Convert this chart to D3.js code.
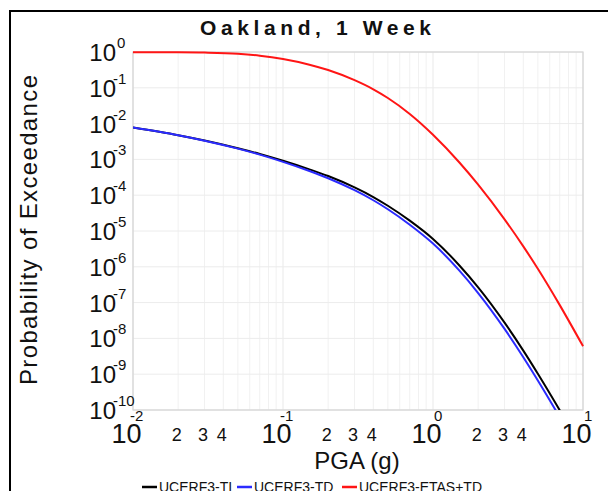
<!DOCTYPE html>
<html><head><meta charset="utf-8">
<script src="https://cdn.jsdelivr.net/npm/d3@7/dist/d3.min.js"></script>
<style>
html,body{margin:0;padding:0;background:#fff;}
svg{display:block;font-family:"Liberation Sans",Arial,Helvetica,sans-serif;}
</style></head>
<body><svg id="chart" width="608" height="491"></svg>
<script>
// ---- data ----
const pga = [0.01,0.02,0.03,0.05,0.07,0.1,0.15,0.2,0.3,0.4,0.5,0.7,1,1.5,2,3,4,5,7,10];
const ucerf3TI = [7.78e-3,4.75e-3,3.37e-3,2.05e-3,1.42e-3,9.16e-4,5.28e-4,3.43e-4,1.65e-4,8.89e-5,5.08e-5,1.95e-5,6.0e-6,1.09e-6,2.67e-7,2.75e-8,4.56e-9,1.03e-9,9.8e-11,7.2e-12];
const ucerf3TD = [7.78e-3,4.75e-3,3.34e-3,2.0e-3,1.36e-3,8.55e-4,4.75e-4,2.98e-4,1.38e-4,7.23e-5,4.05e-5,1.5e-5,4.46e-6,7.8e-7,1.85e-7,1.84e-8,2.99e-9,6.7e-10,6.27e-11,4.55e-12];
const ucerf3ETAS = [0.991,0.984,0.964,0.893,0.787,0.635,0.442,0.313,0.163,0.0906,0.0518,0.0186,4.88e-3,8.2e-4,1.97e-4,2.12e-5,3.72e-6,8.81e-7,8.5e-8,6.07e-9];
const seriesNames = ["UCERF3-TI","UCERF3-TD","UCERF3-ETAS+TD"];
const seriesColors = ["#000000","#2b2bff","#ff1515"];
const yExponents = [0,-1,-2,-3,-4,-5,-6,-7,-8,-9,-10];
const xExponents = [-2,-1,0,1];
const minorLabels = ["2","3","4"];
const titleText = "Oakland, 1 Week";
const xTitle = "PGA (g)";
const yTitle = "Probability of Exceedance";

// ---- layout ----
const svg = d3.select("#chart");
const L = 133, R = 583, T = 52, B = 410;
const x = d3.scaleLog().domain([0.01,10]).range([L,R]);
const y = d3.scaleLog().domain([1e-10,1]).range([B,T]);

// frame
svg.append("rect").attr("x",10).attr("y",11).attr("width",620).attr("height",500)
  .attr("fill","none").attr("stroke","#000").attr("stroke-width",2);

// plot background
svg.append("rect").attr("x",L).attr("y",T).attr("width",R-L).attr("height",B-T).attr("fill","#fff");

// gridlines
const g = svg.append("g");
const minorX = [];
for (let d=-2; d<1; d++) for (let m=2; m<10; m++) minorX.push(m*Math.pow(10,d));
g.selectAll(".mx").data(minorX).enter().append("line")
  .attr("x1",d=>x(d)).attr("x2",d=>x(d)).attr("y1",T).attr("y2",B)
  .attr("stroke","#f1f1f1").attr("stroke-width",1);
g.selectAll(".Mx").data(xExponents.map(e=>Math.pow(10,e))).enter().append("line")
  .attr("x1",d=>x(d)).attr("x2",d=>x(d)).attr("y1",T).attr("y2",B)
  .attr("stroke","#e9e9e9").attr("stroke-width",1);
g.selectAll(".My").data(yExponents.map(e=>Math.pow(10,e))).enter().append("line")
  .attr("x1",L).attr("x2",R).attr("y1",d=>y(d)).attr("y2",d=>y(d))
  .attr("stroke","#ececec").attr("stroke-width",1);

// plot border
svg.append("rect").attr("x",L).attr("y",T).attr("width",R-L).attr("height",B-T)
  .attr("fill","none").attr("stroke","#d4d4d4").attr("stroke-width",1.2);

// clip
svg.append("clipPath").attr("id","clip").append("rect")
  .attr("x",L).attr("y",T-2).attr("width",R-L+1).attr("height",B-T+2);

const line = d3.line().x(d=>x(d[0])).y(d=>y(d[1])).curve(d3.curveMonotoneX);
const allSeries = [ucerf3TI, ucerf3TD, ucerf3ETAS];
const curves = svg.append("g").attr("clip-path","url(#clip)");
allSeries.forEach((s,i)=>{
  curves.append("path").datum(pga.map((p,j)=>[p,s[j]]))
    .attr("d",line).attr("fill","none").attr("stroke",seriesColors[i]).attr("stroke-width",2);
});

// y tick labels
const yl = svg.append("g").attr("fill","#111");
yExponents.forEach(e=>{
  const yy = y(Math.pow(10,e));
  yl.append("text").attr("x",116).attr("y",yy+9).attr("text-anchor","end")
    .attr("font-size",24).text("10");
  yl.append("text").attr("x",e===0?117:113).attr("y",yy-4).attr("font-size",15)
    .text(String(e));
});

// x tick labels
const xl = svg.append("g").attr("fill","#111");
xExponents.forEach(e=>{
  const xx = x(Math.pow(10,e));
  xl.append("text").attr("x",xx+8.5).attr("y",443).attr("text-anchor","end")
    .attr("font-size",27).text("10");
  xl.append("text").attr("x",e>=0?xx+1:xx-3).attr("y",421).attr("font-size",15)
    .text(String(e));
});
[-2,-1,0].forEach(d=>{
  minorLabels.forEach(m=>{
    const xx = x(+m*Math.pow(10,d));
    xl.append("text").attr("x",xx-1.5).attr("y",441).attr("text-anchor","middle")
      .attr("font-size",18).text(m);
  });
});

// titles
svg.append("text").attr("x",200).attr("y",35).attr("font-size",21).attr("font-weight","bold")
  .attr("textLength",231).attr("lengthAdjust","spacing").attr("fill","#111").text(titleText);
svg.append("text").attr("x",357).attr("y",469).attr("text-anchor","middle")
  .attr("font-size",24).attr("fill","#111").text(xTitle);
svg.append("text").attr("transform","translate(37,230) rotate(-90)").attr("text-anchor","middle")
  .attr("font-size",24).attr("textLength",310).attr("lengthAdjust","spacing")
  .attr("fill","#111").text(yTitle);

// legend
const legX = [142,237,342];
const lg = svg.append("g");
seriesNames.forEach((n,i)=>{
  lg.append("line").attr("x1",legX[i]).attr("x2",legX[i]+15).attr("y1",487).attr("y2",487)
    .attr("stroke",seriesColors[i]).attr("stroke-width",2.5);
  lg.append("text").attr("x",legX[i]+17).attr("y",492).attr("font-size",14).attr("fill","#111").text(n);
});
</script></body></html>
